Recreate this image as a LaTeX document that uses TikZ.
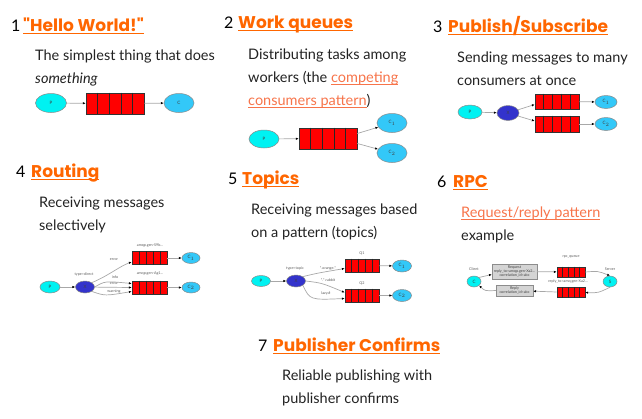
\documentclass[tikz,border=0pt]{standalone}
\usepackage{fontspec}
\setmainfont{Lato}
\newfontfamily\headfont{Poppins}
\usetikzlibrary{arrows.meta,positioning,calc,shapes.geometric}
\definecolor{rmqorange}{HTML}{FF6600}
\definecolor{linkorange}{HTML}{F7744A}
\definecolor{bodyink}{HTML}{222222}
\definecolor{prodcyan}{HTML}{00F2F2}
\definecolor{conblue}{HTML}{33C8F8}
\definecolor{exblue}{HTML}{3333CC}
\definecolor{qred}{HTML}{FF0000}
\definecolor{msggrey}{HTML}{D4D4D4}
\definecolor{wiregrey}{HTML}{A8A8A8}
\definecolor{beadrim}{HTML}{8A8A8A}
\newcommand{\diagfont}{\fontsize{3.7}{4.1}\selectfont}
\newsavebox{\linkbox}
\newcommand{\hlink}[1]{\sbox\linkbox{#1}\rlap{\rule[-2.8pt]{\wd\linkbox}{1.1pt}}\usebox\linkbox}
\newcommand{\lnk}[1]{\textcolor{linkorange}{\sbox\linkbox{#1}\rlap{\rule[-2.6pt]{\wd\linkbox}{0.7pt}}\usebox\linkbox}}
\newcommand{\qcells}[1]{\foreach \k in {1,...,4}{%
  \draw[black!85, line width=0.6pt] ($(#1.north west)!\k/5!(#1.north east)$)
    -- ($(#1.south west)!\k/5!(#1.south east)$);}}
\tikzset{
  num/.style={font=\fontsize{16}{16}\selectfont, text=black, anchor=base west, inner sep=0pt},
  ttl/.style={font=\headfont\fontsize{17}{17}\selectfont\bfseries, text=rmqorange, anchor=base west, inner sep=0pt},
  % multi-line: placed at the baseline of the last line
  desc/.style={font=\fontsize{14.5}{23}\selectfont, text=bodyink, anchor=base west, align=left, inner sep=0pt},
  sz/.style 2 args={minimum width=#1pt, minimum height=#2pt},
  bead/.style={ellipse, draw=beadrim, line width=0.5pt, inner sep=0pt, font=\fontsize{4.5}{4.5}\selectfont, text=black!75},
  prod/.style={bead, fill=prodcyan},
  cons/.style={bead, fill=conblue},
  exch/.style={bead, fill=exblue},
  queue/.style={draw=black!80, line width=0.6pt, fill=qred, inner sep=0pt},
  msgbox/.style={draw=black!45, fill=msggrey, inner sep=0.6pt, align=center, font=\diagfont, text=black!75},
  lbl/.style={font=\diagfont, text=black!65, inner sep=0pt},
  wire/.style={draw=wiregrey, line width=0.7pt, -{Latex[length=2.8pt,width=2.4pt,color=black]}},
}
\begin{document}
\begin{tikzpicture}[x=1pt,y=-1pt]
\useasboundingbox (0,0) rectangle (642,418);

% ---------- 1 hello world ----------
\node[num] (n1) at (11,31) {1};
\node[ttl] (t1) at (23,31) {\hlink{\symbol{34}Hello World!\symbol{34}}};
\node[desc] (d1) at (35,83.5) {The simplest thing that does\\\textit{something}};
\node[prod, sz={31}{19}] (p1) at (51,103) {P};
\node[queue, sz={58}{21}] (q1) at (115,103.5) {};
\qcells{q1}
\node[cons, sz={30}{19}] (c1) at (179,103) {C};
\draw[wire] (p1) -- (q1);
\draw[wire] (q1) -- (c1);

% ---------- 2 work queues ----------
\node[num] (n2) at (224,28) {2};
\node[ttl] (t2) at (238,28) {\hlink{Work queues}};
\node[desc] (d2) at (248,105.5) {Distributing tasks among\\workers (the \lnk{competing}\\\lnk{consumers pattern})};
\node[prod, sz={30}{18}] (p2) at (264,139) {P};
\node[queue, sz={58}{21}] (q2) at (328,138.5) {};
\qcells{q2}
\node[cons, sz={30}{19}] (c2a) at (392,123) {C$_1$};
\node[cons, sz={30}{19}] (c2b) at (392,153) {C$_2$};
\draw[wire] (p2) -- (q2);
\draw[wire] ([yshift=5pt]q2.east) -- (c2a);
\draw[wire] ([yshift=-5pt]q2.east) -- (c2b);

% ---------- 3 publish/subscribe ----------
\node[num] (n3) at (433,32) {3};
\node[ttl] (t3) at (448,32) {\hlink{Publish/Subscribe}};
\node[desc] (d3) at (457,85.5) {Sending messages to many\\consumers at once};
\node[prod, sz={24}{14}] (p3) at (470,112) {P};
\node[exch, sz={22}{15}] (x3) at (508,113) {X};
\node[queue, sz={44}{15}] (q3a) at (557,101.5) {};
\node[queue, sz={44}{16}] (q3b) at (557,124) {};
\qcells{q3a}
\qcells{q3b}
\node[cons, sz={22}{13}] (c3a) at (606,102) {C$_1$};
\node[cons, sz={22}{13}] (c3b) at (606,124) {C$_2$};
\draw[wire] (p3) -- (x3);
\draw[wire] (x3) -- ([yshift=-3pt]q3a.west);
\draw[wire] (x3) -- ([yshift=3pt]q3b.west);
\draw[wire] (q3a) -- (c3a);
\draw[wire] (q3b) -- (c3b);

% ---------- 4 routing ----------
\node[num] (n4) at (16,177) {4};
\node[ttl] (t4) at (31,177) {\hlink{Routing}};
\node[desc] (d4) at (39,230) {Receiving messages\\selectively};
\node[prod, sz={20}{12}] (p4) at (50,287) {P};
\node[exch, sz={19}{12}] (x4) at (85,287) {X};
\node[queue, sz={35}{13}] (q4a) at (149.5,258) {};
\node[queue, sz={35}{13}] (q4b) at (149.5,287.5) {};
\qcells{q4a}
\qcells{q4b}
\node[cons, sz={18}{11}] (c4a) at (191,258) {C$_1$};
\node[cons, sz={18}{11}] (c4b) at (191,287.5) {C$_2$};
\node[lbl] (l4a) at (150,245) {amqp.gen-S9b...};
\node[lbl] (l4b) at (150,274) {amqp.gen-Ag1...};
\node[lbl] (l4t) at (84,274) {type=direct};
\node[lbl] (l4e) at (114,260) {error};
\node[lbl] (l4i) at (115,277) {info};
\node[lbl] (l4r) at (114,283.5) {error};
\node[lbl] (l4w) at (114,291) {warning};
\draw[wire] (p4) -- (x4);
\draw[wire] (x4.north east) .. controls (108,276) and (120,266) .. ([yshift=-4pt]q4a.west);
\draw[wire] (x4.east) .. controls (105,281) .. ([yshift=4pt]q4b.west);
\draw[wire] (x4) -- (q4b.west);
\draw[wire] (x4.south east) .. controls (105,296) .. ([yshift=-4pt]q4b.west);
\draw[wire] (q4a) -- (c4a);
\draw[wire] (q4b) -- (c4b);

% ---------- 5 topics ----------
\node[num] (n5) at (228,184) {5};
\node[ttl] (t5) at (242,184) {\hlink{Topics}};
\node[desc] (d5) at (251,237) {Receiving messages based\\on a pattern (topics)};
\node[prod, sz={19}{11}] (p5) at (261,281) {P};
\node[exch, sz={19}{12}] (x5) at (296,281) {X};
\node[queue, sz={34}{13}] (q5a) at (362,265.5) {};
\node[queue, sz={34}{13}] (q5b) at (362,295.5) {};
\qcells{q5a}
\qcells{q5b}
\node[cons, sz={19}{12}] (c5a) at (402,266) {C$_1$};
\node[cons, sz={19}{12}] (c5b) at (402,295.5) {C$_2$};
\node[lbl] (l5q1) at (362,253) {Q1};
\node[lbl] (l5q2) at (362,283) {Q2};
\node[lbl] (l5t) at (295,268) {type=topic};
\node[lbl] (l5o) at (328,268) {*.orange.*};
\node[lbl] (l5r) at (328,280) {*.*.rabbit};
\node[lbl] (l5l) at (326,293) {lazy.\#};
\draw[wire] (p5) -- (x5);
\draw[wire] (x5.north east) .. controls (318,273) .. ([yshift=-3pt]q5a.west);
\draw[wire] (x5.east) .. controls (322,283) .. ([yshift=3pt]q5b.west);
\draw[wire] (x5.south east) .. controls (310,300) .. ([yshift=-3pt]q5b.west);
\draw[wire] (q5a) -- (c5a);
\draw[wire] (q5b) -- (c5b);

% ---------- 6 rpc ----------
\node[num] (n6) at (437,187) {6};
\node[ttl] (t6) at (453,187) {\hlink{RPC}};
\node[desc] (d6) at (461,240) {\lnk{Request/reply pattern}\\example};
\node[prod, sz={14}{11}] (cl) at (474,281.5) {C};
\node[prod, sz={14}{11}] (srv) at (610,281.5) {S};
\node[lbl] (lcl) at (474,269) {Client};
\node[lbl] (lsrv) at (610,269) {Server};
\node[msgbox, sz={45}{15}] (req) at (514.5,271.5) {Request\\reply\_to=amqp.gen-Xa2...\\correlation\_id=abc};
\node[msgbox, sz={37}{11}] (rep) at (514.5,290.5) {Reply\\correlation\_id=abc};
\node[queue, sz={28}{10}] (rq) at (571,272) {};
\node[queue, sz={28}{9.5}] (rpq) at (571,292.5) {};
\qcells{rq}
\qcells{rpq}
\node[lbl] (lrq) at (571,256.5) {rpc\_queue};
\node[lbl] (lrpq) at (568,281.5) {reply\_to=amq.gen-Xa2...};
\draw[wire] (cl.north east) -- ([yshift=-3pt]req.west);
\draw[wire] (req) -- (rq);
\draw[wire] (rq.east) .. controls (598,271) .. (srv.north);
\draw[wire] (srv.south) .. controls (598,293) .. (rpq.east);
\draw[wire] (rpq) -- (rep);
\draw[wire] (rep.west) .. controls (485,291) .. (cl.south east);

% ---------- 7 publisher confirms ----------
\node[num] (n7) at (258,351) {7};
\node[ttl] (t7) at (273,351) {\hlink{Publisher Confirms}};
\node[desc] (d7) at (282,403) {Reliable publishing with\\publisher confirms};
\end{tikzpicture}
\end{document}
